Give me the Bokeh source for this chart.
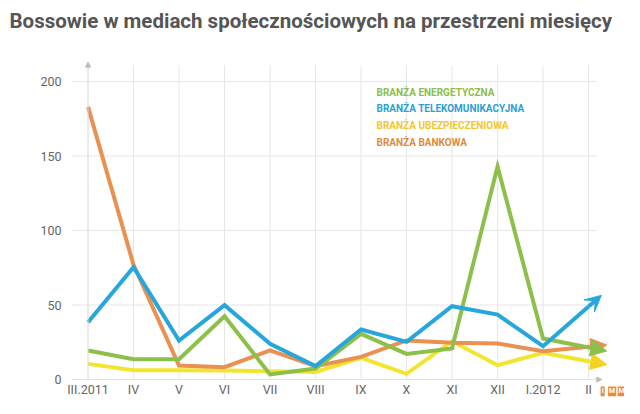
from bokeh.plotting import figure
from bokeh.models import (Range1d, FixedTicker, Arrow, NormalHead, VeeHead,
                          Label, ColumnDataSource, Title)
from bokeh.core.properties import value
from bokeh.embed import file_html
from bokeh.resources import INLINE

# ---- data ----
months = ["III.2011", "IV", "V", "VI", "VII", "VIII", "IX", "X", "XI", "XII", "I.2012", "II"]
energetyczna = [19.5, 13.6, 13.6, 42.5, 3.4, 7.4, 30.6, 17.2, 20.8, 143, 27.5, 21.5]
telekom = [38.5, 75.4, 26.2, 49.9, 24, 9, 33.6, 25.3, 49.2, 43.6, 22.4, 49]
ubezpiecz = [10.5, 6.3, 6.3, 6, 5.6, 5.1, 14.5, 3.8, 25.7, 9.6, 17.9, 12.3]
bankowa = [183, 77, 9.4, 8.3, 19.5, 9, 15.2, 26.2, 24.6, 24.2, 19, 22]
series_names = ["BRANŻA ENERGETYCZNA", "BRANŻA TELEKOMUNIKACYJNA",
                "BRANŻA UBEZPIECZENIOWA", "BRANŻA BANKOWA"]
y_ticks = [0, 50, 100, 150, 200]
logo_letters = ["I", "M", "M"]

title_text = "Bossowie w mediach społecznościowych na przestrzeni miesięcy"

line_colors = {"en": "#8cc04b", "tel": "#27a6dc", "ub": "#f3e52c", "bank": "#ea9050"}
legend_colors = ["#8dbd4a", "#2d9ed6", "#f4c62e", "#e08a3d"]
grid_color = "#e6e6e6"

xs = list(range(len(months)))

X0, X1 = -0.495, 11.79
p = figure(width=624, height=398, output_backend="svg", toolbar_location=None,
           x_range=Range1d(X0, X1), y_range=Range1d(-11.4, 216.8),
           min_border_left=65, min_border_right=0, min_border_bottom=2,
           min_border_top=56)
p.outline_line_color = None
p.background_fill_color = "white"

p.title.text = title_text
p.title.text_font = "Roboto"
p.title.text_font_style = "bold"
p.title.text_font_size = "20.5px"
p.title.text_color = "#555555"
p.title.offset = -56
p.title.standoff = 10

# empty spacer between title and plot area
p.add_layout(Title(text=" ", text_font_size="16px", standoff=0), "above")

# grids (drawn as segments so they stop where the reference stops)
p.xgrid.visible = False
p.ygrid.visible = False
grid_left, grid_right, grid_top = -0.36, 11.18, 211
p.segment(x0=[grid_left] * len(y_ticks), y0=y_ticks, x1=[grid_right] * len(y_ticks), y1=y_ticks,
          line_color=grid_color, line_width=1)
p.segment(x0=xs[1:], y0=[0] * (len(xs) - 1), x1=xs[1:], y1=[grid_top] * (len(xs) - 1),
          line_color=grid_color, line_width=1)

# axes
p.yaxis.ticker = FixedTicker(ticks=y_ticks)
p.yaxis.axis_line_color = None
p.yaxis.major_tick_line_color = None
p.yaxis.major_tick_out = 0
p.yaxis.minor_tick_line_color = None
p.yaxis.major_label_text_color = "#666666"
p.yaxis.major_label_text_font = "Roboto"
p.yaxis.major_label_text_font_size = "12.5px"
p.yaxis.major_label_standoff = 4

p.xaxis.ticker = FixedTicker(ticks=xs)
p.xaxis.fixed_location = 0
p.xaxis.major_label_overrides = {i: m for i, m in enumerate(months)}
p.xaxis.axis_line_color = None
p.xaxis.major_tick_line_color = None
p.xaxis.major_tick_out = 0
p.xaxis.minor_tick_line_color = None
p.xaxis.major_label_text_color = "#666666"
p.xaxis.major_label_text_font = "Roboto"
p.xaxis.major_label_text_font_size = "12.5px"
p.xaxis.major_label_standoff = 2

# axis arrows (decoration)
p.add_layout(Arrow(x_start=0, y_start=0, x_end=0, y_end=213, line_color="#d6d6d6", line_width=1,
                   end=NormalHead(size=5, fill_color="#bbbbbb", line_color="#bbbbbb")))
p.add_layout(Arrow(x_start=grid_left, y_start=0, x_end=11.29, y_end=0, line_color="#e0e0e0",
                   line_width=1, end=NormalHead(size=5, fill_color="#bbbbbb", line_color="#bbbbbb")))

# series
def draw(vals, color, head_color=None, ext=0.4, vee=False):
    head_color = head_color or color
    p.line(xs, vals, line_color=color, line_width=4, line_join="miter")
    slope = vals[-1] - vals[-2]
    head = (VeeHead if vee else NormalHead)(size=16, fill_color=head_color, line_color=head_color)
    p.add_layout(Arrow(x_start=xs[-1], y_start=vals[-1], x_end=xs[-1] + ext,
                       y_end=vals[-1] + slope * ext, line_color=color, line_width=4, end=head))

draw(ubezpiecz, line_colors["ub"], head_color="#f6d21f")
draw(bankowa, line_colors["bank"])
draw(energetyczna, line_colors["en"])
draw(telekom, line_colors["tel"], ext=0.28, vee=True)

# legend as coloured text
leg_src = ColumnDataSource(dict(
    x=[6.34] * len(series_names),
    y=[192.8 - 11.2 * i for i in range(len(series_names))],
    t=series_names,
    c=legend_colors,
))
p.text(x="x", y="y", text="t", text_color="c", source=leg_src,
       text_font=value("Roboto"), text_font_style="bold",
       text_font_size="10px", text_baseline="middle", text_align="left")

# IMM logo
for i, ch in enumerate(logo_letters):
    p.add_layout(Label(x=11.31 + i * 0.209, y=-8, text=ch, text_color="white",
                       text_font="Roboto", text_font_style="bold", text_font_size="7px",
                       background_fill_color="#e98a3c", text_align="center", padding=1,
                       text_baseline="middle", border_line_color=None))

open("out.html", "w").write(file_html(p, INLINE))
